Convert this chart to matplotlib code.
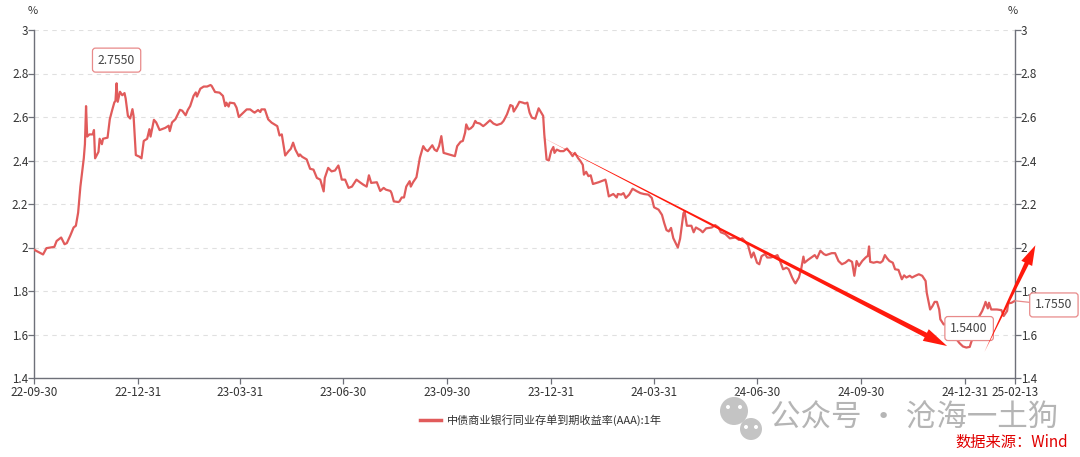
import numpy as np
import pandas as pd
import matplotlib
matplotlib.use('Agg')
import matplotlib.pyplot as plt
import matplotlib.dates as mdates
from matplotlib.patches import Polygon, Circle
from matplotlib.transforms import IdentityTransform
from matplotlib.lines import Line2D

plt.rcParams['font.family'] = ['Noto Sans CJK SC', 'DejaVu Sans']

# ---------------- data ----------------
start_date = '2022-09-30'
day_offsets = [
    0, 8, 11, 18, 20, 24, 27, 29, 32, 35,
    37, 39, 41, 44, 45, 46, 47, 49, 52, 53,
    54, 57, 58, 60, 61, 65, 67, 69, 71, 72,
    73, 74, 76, 78, 80, 81, 83, 85, 87, 88,
    90, 93, 95, 97, 100, 102, 103, 106, 108, 111,
    116, 119, 120, 122, 125, 129, 131, 134, 136, 138,
    141, 143, 144, 147, 150, 153, 156, 157, 160, 164,
    167, 169, 170, 172, 173, 177, 179, 181, 185, 188,
    191, 194, 195, 198, 200, 201, 204, 207, 210, 215,
    217, 219, 222, 225, 227, 229, 231, 234, 235, 237,
    241, 244, 247, 250, 253, 256, 257, 260, 263, 266,
    269, 270, 272, 275, 278, 281, 285, 288, 291, 294,
    296, 298, 303, 306, 309, 311, 315, 316, 318, 322,
    323, 325, 327, 329, 332, 333, 335, 338, 341, 344,
    346, 348, 349, 352, 354, 356, 358, 360, 362, 372,
    374, 377, 379, 381, 382, 384, 386, 388, 390, 391,
    394, 397, 399, 403, 406, 409, 413, 415, 418, 421,
    423, 424, 427, 429, 432, 434, 436, 438, 440, 443,
    446, 450, 451, 453, 455, 457, 459, 460, 462, 465,
    468, 471, 474, 476, 478, 481, 483, 485, 486, 488,
    490, 492, 494, 499, 505, 506, 508, 512, 515, 516,
    519, 521, 523, 526, 529, 533, 536, 539, 543, 546,
    548, 552, 555, 557, 559, 561, 563, 565, 569, 571,
    574, 575, 577, 581, 583, 585, 589, 591, 594, 599,
    602, 605, 607, 611, 615, 620, 623, 626, 628, 631,
    634, 636, 639, 641, 643, 646, 648, 651, 655, 657,
    659, 662, 665, 667, 670, 672, 673, 676, 678, 680,
    681, 684, 687, 690, 692, 695, 698, 700, 705, 708,
    711, 714, 717, 720, 723, 725, 727, 729, 732, 735,
    737, 738, 739, 742, 745, 748, 750, 752, 754, 756,
    759, 761, 764, 767, 769, 771, 774, 776, 779, 782,
    785, 788, 789, 792, 794, 796, 798, 800, 801, 804,
    806, 808, 811, 815, 818, 821, 824, 827, 828, 832,
    835, 838, 840, 841, 843, 844, 846, 851, 855, 857,
    860, 861, 864, 867,
]
yield_values = [
    1.99, 1.968, 1.997, 2.003, 2.03, 2.046, 2.015, 2.02, 2.054, 2.092,
    2.10, 2.16, 2.28, 2.41, 2.475, 2.65, 2.51, 2.52, 2.52, 2.54,
    2.41, 2.44, 2.50, 2.475, 2.50, 2.505, 2.59, 2.63, 2.667, 2.674,
    2.755, 2.67, 2.716, 2.70, 2.71, 2.685, 2.605, 2.593, 2.636, 2.605,
    2.425, 2.418, 2.41, 2.49, 2.50, 2.544, 2.51, 2.587, 2.575, 2.54,
    2.55, 2.56, 2.535, 2.575, 2.59, 2.633, 2.629, 2.608, 2.633, 2.65,
    2.697, 2.713, 2.694, 2.73, 2.74, 2.74, 2.747, 2.743, 2.715, 2.712,
    2.697, 2.65, 2.666, 2.648, 2.666, 2.663, 2.643, 2.60, 2.62, 2.635,
    2.635, 2.623, 2.62, 2.632, 2.623, 2.635, 2.635, 2.589, 2.574, 2.558,
    2.515, 2.52, 2.423, 2.443, 2.454, 2.482, 2.45, 2.42, 2.428, 2.417,
    2.405, 2.362, 2.358, 2.32, 2.312, 2.258, 2.32, 2.366, 2.35, 2.354,
    2.377, 2.358, 2.312, 2.312, 2.274, 2.28, 2.312, 2.30, 2.289, 2.28,
    2.332, 2.297, 2.30, 2.26, 2.274, 2.266, 2.26, 2.25, 2.212, 2.209,
    2.212, 2.23, 2.23, 2.28, 2.305, 2.28, 2.30, 2.323, 2.412, 2.466,
    2.45, 2.443, 2.45, 2.47, 2.45, 2.443, 2.466, 2.512, 2.435, 2.42,
    2.466, 2.486, 2.49, 2.528, 2.566, 2.543, 2.548, 2.558, 2.582, 2.574,
    2.57, 2.558, 2.566, 2.585, 2.57, 2.563, 2.57, 2.582, 2.612, 2.655,
    2.65, 2.625, 2.65, 2.67, 2.666, 2.662, 2.666, 2.62, 2.597, 2.592,
    2.64, 2.605, 2.52, 2.405, 2.40, 2.443, 2.462, 2.435, 2.45, 2.443,
    2.443, 2.455, 2.435, 2.42, 2.435, 2.41, 2.397, 2.38, 2.335, 2.348,
    2.328, 2.332, 2.292, 2.30, 2.312, 2.29, 2.235, 2.246, 2.23, 2.246,
    2.243, 2.25, 2.228, 2.243, 2.27, 2.258, 2.25, 2.246, 2.243, 2.228,
    2.185, 2.174, 2.15, 2.112, 2.08, 2.074, 2.09, 2.043, 2.00, 2.04,
    2.158, 2.165, 2.10, 2.10, 2.07, 2.092, 2.08, 2.07, 2.088, 2.092,
    2.103, 2.092, 2.07, 2.062, 2.042, 2.046, 2.035, 2.042, 2.03, 2.011,
    1.954, 1.977, 1.93, 1.923, 1.96, 1.97, 1.954, 1.954, 1.96, 1.965,
    1.943, 1.90, 1.907, 1.90, 1.862, 1.842, 1.835, 1.862, 1.90, 1.958,
    1.93, 1.943, 1.954, 1.965, 1.95, 1.985, 1.97, 1.965, 1.974, 1.974,
    1.938, 1.923, 1.93, 1.943, 1.934, 1.87, 1.938, 1.915, 1.938, 1.954,
    1.962, 2.005, 1.934, 1.93, 1.934, 1.93, 1.938, 1.965, 1.95, 1.938,
    1.93, 1.90, 1.897, 1.854, 1.872, 1.862, 1.87, 1.862, 1.87, 1.877,
    1.87, 1.846, 1.792, 1.715, 1.73, 1.75, 1.75, 1.715, 1.67, 1.646,
    1.65, 1.66, 1.62, 1.58, 1.56, 1.545, 1.54, 1.543, 1.56, 1.62,
    1.68, 1.708, 1.734, 1.75, 1.72, 1.746, 1.715, 1.715, 1.712, 1.685,
    1.708, 1.743, 1.746, 1.755,
]
series_name = '中债商业银行同业存单到期收益率(AAA):1年'
x_tick_dates = ['2022-09-30', '2022-12-31', '2023-03-31', '2023-06-30',
                '2023-09-30', '2023-12-31', '2024-03-31', '2024-06-30',
                '2024-09-30', '2024-12-31', '2025-02-13']
y_ticks = [1.4, 1.6, 1.8, 2.0, 2.2, 2.4, 2.6, 2.8, 3.0]
# hand-drawn trend arrows: (start date, start value) -> (tip date, tip value)
arrow_down = [('2023-12-22', 2.51), ('2024-12-15', 1.547)]
arrow_up = [('2025-01-17', 1.52), ('2025-03-03', 2.01)]

# ---------------- figure ----------------
W, H = 1080, 457
fig = plt.figure(figsize=(W / 100, H / 100), dpi=100)
ax = fig.add_axes([34 / W, 1 - 378 / H, (1015 - 34) / W, (378 - 30) / H])

line_color = '#e15b5b'
dates = pd.Timestamp(start_date) + pd.to_timedelta(day_offsets, unit='D')
vals = np.array(yield_values)
ax.plot(dates, vals, color=line_color, lw=1.6, solid_joinstyle='round', zorder=3)

ticks_dt = pd.to_datetime(x_tick_dates)
ax.set_xlim(ticks_dt[0], ticks_dt[-1])
ax.set_ylim(y_ticks[0], y_ticks[-1])
ax.set_xticks(ticks_dt)
ax.set_xticklabels([d.strftime('%y-%m-%d') for d in ticks_dt])
ax.set_yticks(y_ticks)
ax.set_yticklabels([f'{v:g}' for v in y_ticks])

axis_col = '#6e7079'
for side in ['left', 'right', 'bottom']:
    ax.spines[side].set_color(axis_col)
    ax.spines[side].set_linewidth(1.0)
ax.spines['top'].set_visible(False)
ax.tick_params(axis='both', direction='out', length=4, width=0.9, color=axis_col,
               labelcolor='#333333', labelsize=8.4, pad=1.5)
ax.tick_params(axis='y', left=True, right=True, labelleft=True, labelright=True, pad=0)
ax.yaxis.grid(True, linestyle=(0, (4, 4)), color='#e0e0e0', lw=0.8)
ax.set_axisbelow(True)

fig.text(33 / W, 1 - 11 / H, '%', ha='center', va='center', fontsize=8, color='#333333')
fig.text(1013 / W, 1 - 11 / H, '%', ha='center', va='center', fontsize=8, color='#333333')

# value labels
box = dict(boxstyle='round,pad=0.45,rounding_size=0.25', fc='white', ec='#e88a8a', lw=0.9)
imax, imin, ilast = int(np.argmax(vals)), int(np.argmin(vals)), len(vals) - 1
ax.annotate(f'{vals[imax]:.4f}', (dates[imax], vals[imax]), xytext=(0, 12),
            textcoords='offset points', ha='center', va='bottom', fontsize=8.8,
            color='#444444', bbox=box, zorder=6)
ax.annotate(f'{vals[imin]:.4f}', (dates[imin], vals[imin]), xytext=(2, 9),
            textcoords='offset points', ha='center', va='bottom', fontsize=8.8,
            color='#444444', bbox=box, zorder=6)
ax.annotate(f'{vals[ilast]:.4f}', (dates[ilast], vals[ilast]), xytext=(28, -3),
            textcoords='offset points', ha='center', va='center', fontsize=8.8,
            color='#444444', bbox=box, zorder=6, annotation_clip=False,
            arrowprops=dict(arrowstyle='-', color='#e88a8a', lw=0.9,
                            shrinkA=0, shrinkB=0))

fig.canvas.draw()


def tapered_arrow(p0, p1, w_end, head_len, head_w, color='#ff1a0d'):
    t = ax.transData
    a = t.transform((mdates.date2num(pd.Timestamp(p0[0])), p0[1]))
    b = t.transform((mdates.date2num(pd.Timestamp(p1[0])), p1[1]))
    d = b - a
    u = d / np.hypot(*d)
    n = np.array([-u[1], u[0]])
    base = b - u * head_len
    pts = [a, base + n * w_end / 2, base + n * head_w / 2, b,
           base - n * head_w / 2, base - n * w_end / 2]
    fig.add_artist(Polygon(pts, closed=True, transform=IdentityTransform(),
                           fc=color, ec='none', zorder=10))


tapered_arrow(arrow_down[0], arrow_down[1], 5, 24, 13)
tapered_arrow(arrow_up[0], arrow_up[1], 4.5, 20, 12)

# legend
handle = Line2D([], [], color=line_color, lw=2.5)
fig.legend([handle], [series_name], loc='center left',
           bbox_to_anchor=(410 / W, 1 - 420 / H), frameon=False, fontsize=8,
           handlelength=1.9, handletextpad=0.5, labelcolor='#333333')

# watermark (WeChat icon + account name)
def pix(x, y):
    return (x, H - y)

for (cx, cy, r) in [(734, 411, 14), (751, 429, 11)]:
    fig.add_artist(Circle(pix(cx, cy), r + 1.5, transform=IdentityTransform(),
                          fc='white', ec='none', zorder=11))
    fig.add_artist(Circle(pix(cx, cy), r, transform=IdentityTransform(),
                          fc='#c4c4c4', ec='none', zorder=12))
for (ex, ey) in [(728, 407), (740, 407), (746, 427), (756, 427)]:
    fig.add_artist(Circle(pix(ex, ey), 2.0, transform=IdentityTransform(),
                          fc='white', ec='none', zorder=13))

fig.text(770 / W, 1 - 418 / H, '公众号 · 沧海一土狗', ha='left', va='center',
         fontsize=22, color='#a8a8a8', alpha=0.85, zorder=12)
fig.text(955 / W, 1 - 442 / H, '数据来源：Wind', ha='left', va='center',
         fontsize=11, color='#e00000', zorder=12)

fig.savefig('out.png', dpi=100)
